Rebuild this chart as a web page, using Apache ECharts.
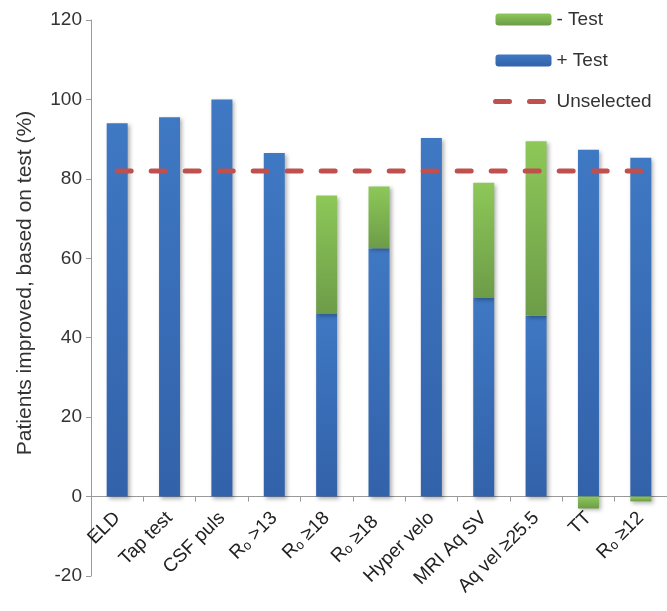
<!DOCTYPE html>
<html>
<head>
<meta charset="utf-8">
<script src="https://cdn.jsdelivr.net/npm/echarts@6/dist/echarts.min.js"></script>
<style>html,body{margin:0;padding:0;background:#fff;}#c{width:667px;height:611px;}</style>
</head>
<body>
<div id="c"></div>
<script>
const categories = ['ELD', 'Tap test', 'CSF puls', 'Rₒ >13', 'Rₒ ≥18', 'Rₒ ≥18 ', 'Hyper velo', 'MRI Aq SV', 'Aq vel ≥25.5', 'TT', 'Rₒ ≥12'];
const plusTest = [94, 95.5, 100, 86.5, 46, 62.5, 90.3, 50, 45.5, 87.3, 85.3];
const minusTest = [null, null, null, null, 29.8, 15.6, null, 29, 44, -3, -1.2];
const unselected = [82, 82, 82, 82, 82, 82, 82, 82, 82, 82, 82];
const yTicks = { min: -20, max: 120, interval: 20 };

const FONT = 'Liberation Sans, Arial, Helvetica, sans-serif';
const RED = '#c0504d';
const dash = { color: RED, width: 5, type: [14, 20], cap: 'round' };
const blueGrad = new echarts.graphic.LinearGradient(0, 0, 0, 1, [
  { offset: 0, color: '#3f78c3' }, { offset: 1, color: '#3262aa' }]);
const greenGrad = new echarts.graphic.LinearGradient(0, 0, 0, 1, [
  { offset: 0, color: '#8dc858' }, { offset: 1, color: '#6d9c48' }]);

const chart = echarts.init(document.getElementById('c'), null, { renderer: 'canvas' });
chart.setOption({
  animation: false,
  backgroundColor: '#fff',
  textStyle: { fontFamily: FONT },
  grid: { left: 91, right: 0, top: 20, bottom: 35, containLabel: false, outerBoundsMode: 'none' },
  legend: {
    orient: 'vertical',
    left: 488, top: 5,
    itemWidth: 56, itemHeight: 12, itemGap: 22,
    textStyle: { fontSize: 19, color: '#333', fontFamily: FONT },
    data: ['- Test', '+ Test', { name: 'Unselected', itemStyle: { opacity: 0 }, lineStyle: dash }]
  },
  xAxis: {
    type: 'category',
    data: categories,
    axisLine: { onZero: true, lineStyle: { color: '#999', width: 1 } },
    axisTick: { show: true, length: 5, lineStyle: { color: '#999' } },
    axisLabel: { rotate: 45, fontSize: 19, color: '#222', margin: -61, interval: 0, fontFamily: FONT }
  },
  yAxis: {
    type: 'value',
    min: yTicks.min, max: yTicks.max, interval: yTicks.interval,
    name: 'Patients improved, based on test (%)',
    nameLocation: 'middle', nameGap: 55, nameRotate: 90,
    nameTextStyle: { fontSize: 21, color: '#333', fontFamily: FONT, padding: [0, 0, 0, 30] },
    axisLine: { show: true, lineStyle: { color: '#999' } },
    axisTick: { show: true, length: 5, lineStyle: { color: '#999' } },
    axisLabel: { fontSize: 19, color: '#333', margin: 9, fontFamily: FONT },
    splitLine: { show: false }
  },
  series: [
    {
      name: '+ Test', type: 'bar', stack: 'a', barWidth: 21,
      data: plusTest,
      itemStyle: { color: blueGrad, shadowBlur: 4, shadowColor: 'rgba(0,0,0,0.3)', shadowOffsetX: 2, shadowOffsetY: 2 }
    },
    {
      name: '- Test', type: 'bar', stack: 'a', barWidth: 21,
      data: minusTest,
      itemStyle: { color: greenGrad, shadowBlur: 4, shadowColor: 'rgba(0,0,0,0.3)', shadowOffsetX: 2, shadowOffsetY: 2 }
    },
    {
      name: 'Unselected', type: 'line', data: unselected, symbol: 'none', z: 5,
      itemStyle: { color: RED },
      lineStyle: dash
    }
  ]
});
</script>
</body>
</html>
